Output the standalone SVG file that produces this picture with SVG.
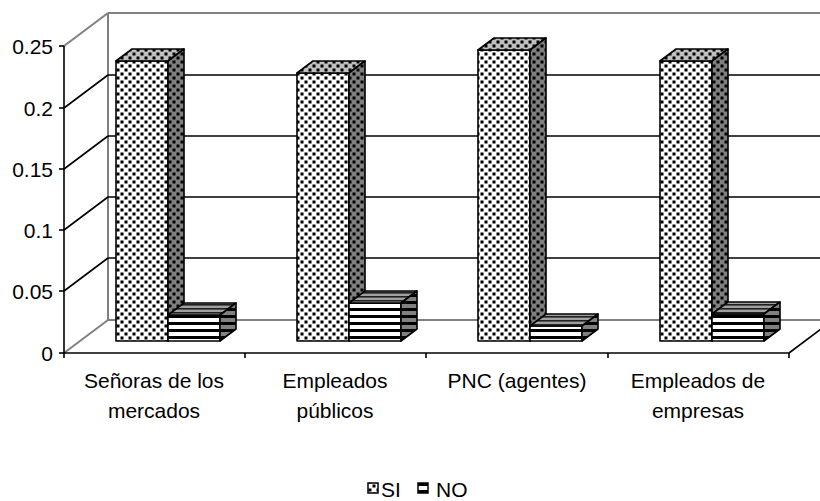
<svg xmlns="http://www.w3.org/2000/svg" width="820" height="501" viewBox="0 0 820 501">
<defs>
<pattern id="dotF" width="8" height="8" patternUnits="userSpaceOnUse"><rect width="8" height="8" fill="#fff"/><rect x="0.5" y="0.5" width="3" height="3" fill="#000"/><rect x="4.5" y="4.5" width="3" height="3" fill="#000"/></pattern>
<pattern id="dotS" width="8" height="8" patternUnits="userSpaceOnUse"><rect width="8" height="8" fill="#808080"/><rect x="0.5" y="0.5" width="3" height="3" fill="#000"/><rect x="4.5" y="4.5" width="3" height="3" fill="#000"/></pattern>
<pattern id="dotT" width="8" height="8" patternUnits="userSpaceOnUse"><rect width="8" height="8" fill="#c0c0c0"/><rect x="0.5" y="0.5" width="3" height="3" fill="#000"/><rect x="4.5" y="4.5" width="3" height="3" fill="#000"/></pattern>
<pattern id="strF" width="8" height="7" patternUnits="userSpaceOnUse"><rect width="8" height="7" fill="#fff"/><rect y="0" width="8" height="3" fill="#000"/></pattern>
<pattern id="strS" width="8" height="7" patternUnits="userSpaceOnUse"><rect width="8" height="7" fill="#808080"/><rect y="0" width="8" height="3" fill="#000"/></pattern>
<pattern id="strT" width="8" height="4" patternUnits="userSpaceOnUse"><rect width="8" height="4" fill="#a0a0a0"/><rect y="0" width="8" height="1.6" fill="#202020"/></pattern>
</defs>
<style>
text{font-family:"Liberation Sans",Arial,sans-serif;font-size:21px;fill:#000}
.ax{text-anchor:end}
.cat{text-anchor:middle}
.g{stroke:#808080;stroke-width:2;fill:none}
.k{stroke:#000;stroke-width:1.6;fill:none}
.bar{stroke:#000;stroke-width:1.6;stroke-linejoin:round}
</style>
<rect width="820" height="501" fill="#fff"/>
<g id="walls">
<line class="g" x1="108" y1="13" x2="820" y2="13"/>
<line class="g" x1="108" y1="13" x2="108" y2="320"/>
<line class="g" x1="108" y1="320" x2="820" y2="320"/>
<line class="g" x1="64" y1="46" x2="108" y2="13"/>
<line class="g" x1="64" y1="353" x2="108" y2="320"/>
<line class="k" x1="108" y1="75" x2="820" y2="75"/>
<line class="k" x1="108" y1="136" x2="820" y2="136"/>
<line class="k" x1="108" y1="197" x2="820" y2="197"/>
<line class="k" x1="108" y1="258" x2="820" y2="258"/>
<line class="k" x1="64" y1="108" x2="108" y2="75"/>
<line class="k" x1="64" y1="169" x2="108" y2="136"/>
<line class="k" x1="64" y1="230" x2="108" y2="197"/>
<line class="k" x1="64" y1="291" x2="108" y2="258"/>
</g>
<g id="axes">
<line class="k" x1="64" y1="46" x2="64" y2="353"/>
<line class="k" x1="59" y1="46" x2="64" y2="46"/>
<line class="k" x1="59" y1="108" x2="64" y2="108"/>
<line class="k" x1="59" y1="169" x2="64" y2="169"/>
<line class="k" x1="59" y1="230" x2="64" y2="230"/>
<line class="k" x1="59" y1="291" x2="64" y2="291"/>
<line class="k" x1="59" y1="353" x2="64" y2="353"/>
<line class="k" x1="64" y1="353" x2="789" y2="353"/>
<line class="k" x1="789" y1="353" x2="833" y2="320"/>
<line class="k" x1="64" y1="353" x2="64" y2="358"/>
<line class="k" x1="245" y1="353" x2="245" y2="358"/>
<line class="k" x1="426" y1="353" x2="426" y2="358"/>
<line class="k" x1="608" y1="353" x2="608" y2="358"/>
<line class="k" x1="789" y1="353" x2="789" y2="358"/>
<text class="ax" x="53" y="53.5">0.25</text>
<text class="ax" x="53" y="115.5">0.2</text>
<text class="ax" x="53" y="176.5">0.15</text>
<text class="ax" x="53" y="237.5">0.1</text>
<text class="ax" x="53" y="298.5">0.05</text>
<text class="ax" x="53" y="360.5">0</text>
</g>
<g id="bar-senoras">
<rect class="bar" x="116" y="61" width="52" height="280" fill="url(#dotF)"/>
<polygon class="bar" points="116,61 132,49 184,49 168,61" fill="url(#dotT)"/>
<polygon class="bar" points="168,61 184,49 184,329 168,341" fill="url(#dotS)"/>
<rect class="bar" x="168" y="315" width="52" height="26" fill="url(#strF)"/>
<polygon class="bar" points="168,315 184,303 236,303 220,315" fill="url(#strT)"/>
<polygon class="bar" points="220,315 236,303 236,329 220,341" fill="url(#strS)"/>
</g>
<g id="bar-empleados-publicos">
<rect class="bar" x="297" y="73" width="52" height="268" fill="url(#dotF)"/>
<polygon class="bar" points="297,73 313,61 365,61 349,73" fill="url(#dotT)"/>
<polygon class="bar" points="349,73 365,61 365,329 349,341" fill="url(#dotS)"/>
<rect class="bar" x="349" y="303" width="52" height="38" fill="url(#strF)"/>
<polygon class="bar" points="349,303 365,291 417,291 401,303" fill="url(#strT)"/>
<polygon class="bar" points="401,303 417,291 417,329 401,341" fill="url(#strS)"/>
</g>
<g id="bar-pnc">
<rect class="bar" x="478" y="50" width="52" height="291" fill="url(#dotF)"/>
<polygon class="bar" points="478,50 494,38 546,38 530,50" fill="url(#dotT)"/>
<polygon class="bar" points="530,50 546,38 546,329 530,341" fill="url(#dotS)"/>
<rect class="bar" x="530" y="326" width="52" height="15" fill="url(#strF)"/>
<polygon class="bar" points="530,326 546,314 598,314 582,326" fill="url(#strT)"/>
<polygon class="bar" points="582,326 598,314 598,329 582,341" fill="url(#strS)"/>
</g>
<g id="bar-empleados-empresas">
<rect class="bar" x="660" y="61" width="52" height="280" fill="url(#dotF)"/>
<polygon class="bar" points="660,61 676,49 728,49 712,61" fill="url(#dotT)"/>
<polygon class="bar" points="712,61 728,49 728,329 712,341" fill="url(#dotS)"/>
<rect class="bar" x="712" y="314" width="52" height="27" fill="url(#strF)"/>
<polygon class="bar" points="712,314 728,302 780,302 764,314" fill="url(#strT)"/>
<polygon class="bar" points="764,314 780,302 780,329 764,341" fill="url(#strS)"/>
</g>
<g id="labels">
<text class="cat" x="154" y="388">Señoras de los</text>
<text class="cat" x="154" y="418">mercados</text>
<text class="cat" x="335" y="388">Empleados</text>
<text class="cat" x="335" y="418">públicos</text>
<text class="cat" x="517" y="388">PNC (agentes)</text>
<text class="cat" x="698" y="388">Empleados de</text>
<text class="cat" x="698" y="418">empresas</text>
</g>
<g id="legend">
<rect x="368" y="483" width="10" height="10" fill="url(#dotF)" stroke="#000" stroke-width="1.5"/>
<text x="381" y="497">SI</text>
<rect x="418" y="483" width="10" height="10" fill="url(#strF)" stroke="#000" stroke-width="1.5"/>
<text x="436" y="497">NO</text>
</g>
</svg>
